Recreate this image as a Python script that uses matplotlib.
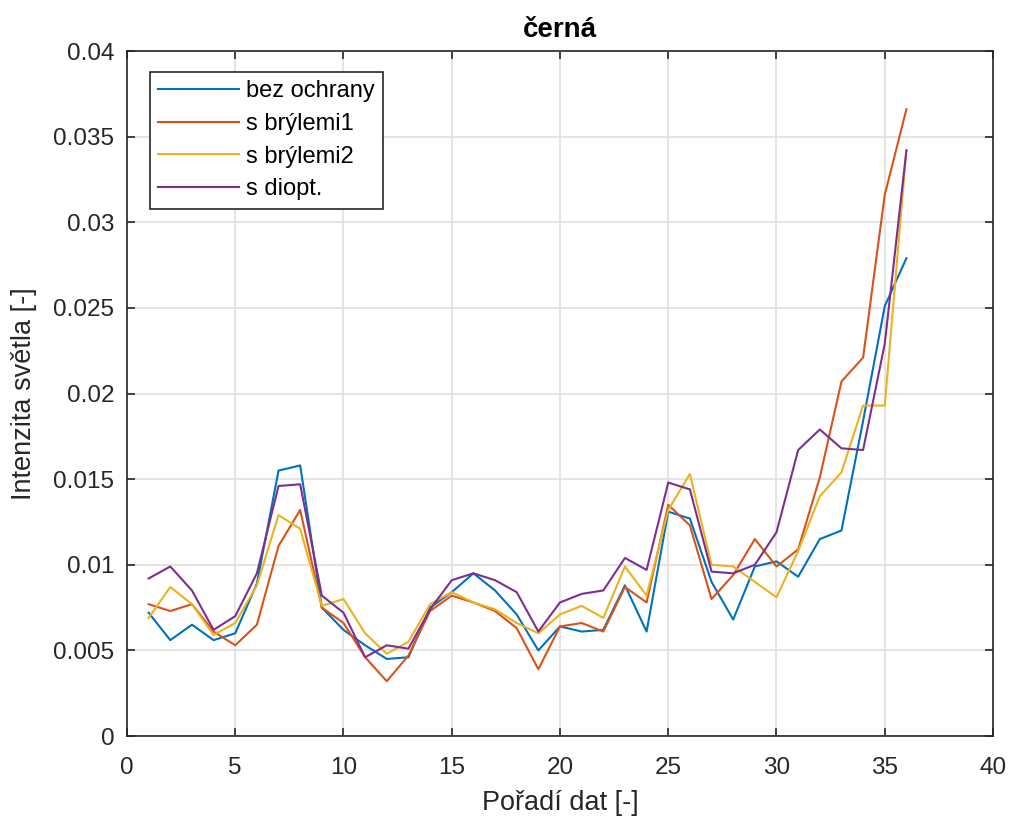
import matplotlib
matplotlib.use('Agg')
import matplotlib.pyplot as plt

# poradi dat 1..36
poradi = list(range(1, 37))

bez_ochrany = [0.0072, 0.0056, 0.0065, 0.0056, 0.0060, 0.0089, 0.0155, 0.0158,
               0.0075, 0.0062, 0.0053, 0.0045, 0.0046, 0.0075, 0.0084, 0.0095,
               0.0085, 0.0071, 0.0050, 0.0064, 0.0061, 0.0062, 0.0088, 0.0061,
               0.0131, 0.0127, 0.0090, 0.0068, 0.0099, 0.0102, 0.0093, 0.0115,
               0.0120, 0.0184, 0.0251, 0.0279]
s_brylemi1 = [0.0077, 0.0073, 0.0077, 0.0061, 0.0053, 0.0065, 0.0111, 0.0132,
              0.0075, 0.0066, 0.0046, 0.0032, 0.0047, 0.0073, 0.0082, 0.0078,
              0.0073, 0.0063, 0.0039, 0.0064, 0.0066, 0.0061, 0.0087, 0.0078,
              0.0135, 0.0123, 0.0080, 0.0094, 0.0115, 0.0099, 0.0109, 0.0151,
              0.0207, 0.0221, 0.0316, 0.0366]
s_brylemi2 = [0.0069, 0.0087, 0.0077, 0.0059, 0.0066, 0.0088, 0.0129, 0.0121,
              0.0076, 0.0080, 0.0060, 0.0048, 0.0055, 0.0077, 0.0084, 0.0078,
              0.0074, 0.0066, 0.0060, 0.0071, 0.0076, 0.0069, 0.0099, 0.0082,
              0.0132, 0.0153, 0.0100, 0.0099, 0.0090, 0.0081, 0.0108, 0.0140,
              0.0154, 0.0193, 0.0193, 0.0342]
s_diopt = [0.0092, 0.0099, 0.0085, 0.0062, 0.0070, 0.0095, 0.0146, 0.0147,
           0.0082, 0.0072, 0.0046, 0.0053, 0.0051, 0.0074, 0.0091, 0.0095,
           0.0091, 0.0084, 0.0061, 0.0078, 0.0083, 0.0085, 0.0104, 0.0097,
           0.0148, 0.0144, 0.0096, 0.0095, 0.0100, 0.0119, 0.0167, 0.0179,
           0.0168, 0.0167, 0.0229, 0.0342]

nazvy = ['bez ochrany', 's brýlemi1', 's brýlemi2', 's diopt.']
barvy = ['#0072BD', '#D95319', '#EDB120', '#7E2F8E']

plt.rcParams['font.family'] = ['Liberation Sans', 'DejaVu Sans']

fig = plt.figure(figsize=(10.11, 8.16), dpi=100)
ax = fig.add_axes([0.1256, 0.098, 0.8566, 0.8395])

for data, nazev, barva in zip([bez_ochrany, s_brylemi1, s_brylemi2, s_diopt],
                              nazvy, barvy):
    ax.plot(poradi, data, color=barva, linewidth=1.5, label=nazev)

ax.set_xlim(0, 40)
ax.set_ylim(0, 0.04)
ax.set_xticks(range(0, 41, 5))
ax.set_yticks([0, 0.005, 0.01, 0.015, 0.02, 0.025, 0.03, 0.035, 0.04])
ax.set_yticklabels(['0', '0.005', '0.01', '0.015', '0.02', '0.025', '0.03',
                    '0.035', '0.04'])
ax.grid(True, color='#dfdfdf', linewidth=1.2)
ax.set_axisbelow(True)
ax.tick_params(direction='in', length=6, width=1.2, labelsize=17.5,
               colors='#262626', top=True, right=True)
ax.tick_params(axis='x', pad=15)
ax.tick_params(axis='y', pad=9)
for s in ax.spines.values():
    s.set_color('#262626')
    s.set_linewidth(1.2)

ax.set_title('černá', fontsize=20, fontweight='bold', pad=10)
ax.set_xlabel('Pořadí dat [-]', fontsize=19.5, color='#262626', labelpad=8)
ax.set_ylabel('Intenzita světla [-]', fontsize=19.5, color='#262626',
              labelpad=12)

leg = ax.legend(loc='upper left', bbox_to_anchor=(0.0266, 0.969),
                borderaxespad=0, fontsize=17, fancybox=False, framealpha=1,
                edgecolor='#262626', handlelength=3.4, handletextpad=0.3,
                borderpad=0.35, labelspacing=0.45)
leg.get_frame().set_linewidth(1.2)

plt.savefig('out.png', dpi=100)
